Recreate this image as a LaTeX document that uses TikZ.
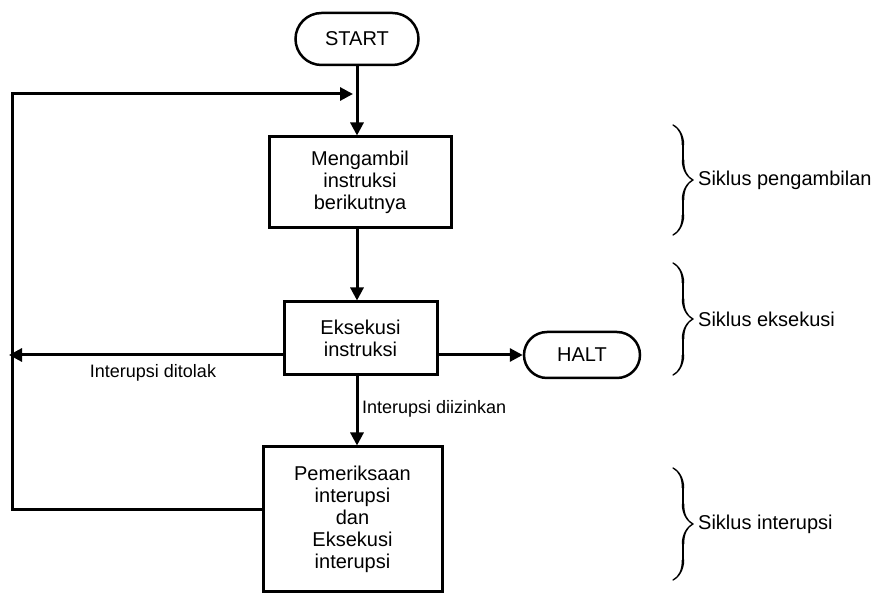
\documentclass[tikz,border=0pt]{standalone}
\usepackage{fontspec}
\setmainfont{Liberation Sans}
\usetikzlibrary{arrows.meta,shapes.misc,decorations.pathreplacing,calligraphy}
\tikzset{%
  block/.style={draw,line width=3pt,inner sep=0pt,align=center,font=\fontsize{20}{22}\selectfont},
  terminal/.style={rounded rectangle,draw,line width=2.5pt,inner sep=0pt,font=\fontsize{20}{22}\selectfont},
  flow/.style={line width=3pt,-{Triangle[length=13pt,width=13pt]}},
  note/.style={inner sep=0pt,font=\fontsize{18}{20}\selectfont},
  phase/.style={decorate,decoration={calligraphic brace,amplitude=20pt},line width=2.5pt},
  phasetext/.style={anchor=west,inner sep=0pt,font=\fontsize{20}{22}\selectfont}
}

\begin{document}
\begin{tikzpicture}[x=1pt,y=1pt]
  \useasboundingbox (0,0) rectangle (879,594);
  % Steps
  \node[terminal,minimum width=123pt,minimum height=52pt] (start) at (357,555) {START};
  \node[block,minimum width=182pt,minimum height=91pt] (fetch) at (360,411.5) {Mengambil\\instruksi\\berikutnya};
  \node[block,minimum width=153pt,minimum height=73pt] (exec) at (360.5,255.5) {Eksekusi\\instruksi};
  \node[terminal,minimum width=116pt,minimum height=46pt] (halt) at (582,239) {HALT};
  \node[block,minimum width=179pt,minimum height=145pt] (intr) at (352.5,74.5) {Pemeriksaan\\interupsi\\dan\\Eksekusi\\interupsi};
  % Loop back
  \coordinate (rej) at (9,239);
  \coordinate (loopB) at (12,84);
  \coordinate (loopT) at (12,500);
  \coordinate (join) at (358,500);
  \draw[flow] (start.south) -- (start.south |- fetch.north);
  \draw[flow] (start.south |- fetch.south) -- (start.south |- exec.north);
  \draw[flow] (start.south |- exec.south) -- (start.south |- intr.north);
  \draw[flow] (exec.east |- halt.west) -- (halt.west);
  \draw[flow] (exec.west |- halt.west) -- (rej);
  \draw[flow,shorten >=5pt] (intr.west |- loopB) -- (loopB) -- (loopT) -- (join);
  \node[note] (denied) at (153,221) {Interupsi ditolak};
  \node[note,anchor=west] (allowed) at (362,185) {Interupsi diizinkan};
  % Cycles
  \draw[phase] (673,469) coordinate (f0) -- (673,359) coordinate (f1);
  \draw[phase] (673,331) coordinate (e0) -- (673,219) coordinate (e1);
  \draw[phase] (673,126) coordinate (i0) -- (673,14) coordinate (i1);
  \node[phasetext] (fetchcyc) at (698,414) {Siklus pengambilan};
  \node[phasetext] (execcyc) at (698,275) {Siklus eksekusi};
  \node[phasetext] (intrcyc) at (698,70) {Siklus interupsi};
\end{tikzpicture}
\end{document}
